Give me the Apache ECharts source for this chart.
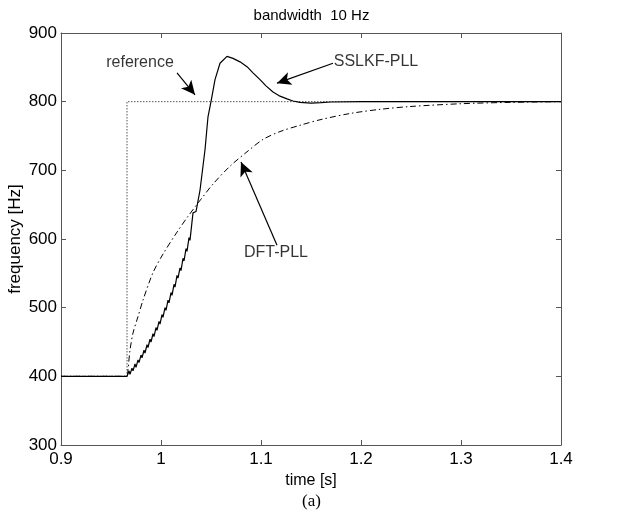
<!DOCTYPE html>
<html>
<head>
<meta charset="utf-8">
<script src="https://cdn.jsdelivr.net/npm/echarts@6/dist/echarts.min.js"></script>
<style>html,body{margin:0;padding:0;background:#fff}#c{width:623px;height:512px}</style>
</head>
<body>
<div id="c"></div>
<script>
const xTicks = [0.9, 1, 1.1, 1.2, 1.3, 1.4];
const yTicks = [300, 400, 500, 600, 700, 800, 900];

const refTime = [0.9, 0.966, 0.966, 1.4];
const refFreq = [400, 400, 800, 800];

const sslkfTime = [0.9, 0.966, 0.968, 0.969, 0.971, 0.972, 0.974, 0.975, 0.977, 0.978, 0.980, 0.981, 0.983, 0.984, 0.986, 0.987, 0.989, 0.990, 0.992, 0.993, 0.995, 0.996, 0.998, 0.999, 1.001, 1.002, 1.004, 1.005, 1.007, 1.008, 1.010, 1.011, 1.013, 1.014, 1.016, 1.017, 1.019, 1.020, 1.022, 1.023, 1.025, 1.026, 1.028, 1.029, 1.031, 1.032, 1.035, 1.036, 1.039, 1.044, 1.047, 1.050, 1.054, 1.059, 1.066, 1.072, 1.079, 1.086, 1.092, 1.099, 1.105, 1.112, 1.119, 1.126, 1.132, 1.139, 1.150, 1.160, 1.170, 1.200, 1.400];
const sslkfFreq = [400, 400, 408, 403, 412, 408, 418, 413, 424, 420, 431, 427, 438, 434, 446, 442, 454, 450, 462, 458, 471, 467, 480, 476, 490, 486, 500, 496, 511, 507, 522, 518, 534, 530, 547, 543, 558, 554, 572, 568, 586, 582, 602, 598, 625, 638, 640, 641, 671, 730, 778, 800, 832, 856, 866, 863, 858, 851, 842, 832, 823, 814, 808, 804, 801, 799, 798, 798.5, 799.5, 800, 800];

const dftTime = [0.9, 0.966, 0.967, 0.969, 0.972, 0.977, 0.982, 0.992, 1.002, 1.016, 1.027, 1.040, 1.052, 1.069, 1.086, 1.102, 1.120, 1.140, 1.160, 1.190, 1.220, 1.250, 1.300, 1.350, 1.400];
const dftFreq = [400, 400, 410, 438, 463, 487, 511, 551, 578, 610, 633, 658, 680, 706, 727, 745, 757, 766, 774, 783, 789, 793, 797, 799, 800];

const annoText = ['reference', 'SSLKF-PLL', 'DFT-PLL'];
const annoTextAt = [[0.979, 857], [1.215, 858], [1.115, 580]];
const arrowFrom = [[1.016, 842], [1.172, 856], [1.116, 591]];
const arrowTo = [[1.034, 810], [1.116, 827], [1.080, 712]];

const zip = (a, b) => a.map((v, i) => [v, b[i]]);

const chart = echarts.init(document.getElementById('c'), null, {renderer: 'canvas'});
const font = 'Liberation Sans, Arial, sans-serif';
const axisColor = '#555';

const baseX = {type: 'value', min: 0.9, max: 1.4, interval: 0.1, splitLine: {show: false},
  axisLine: {show: true, lineStyle: {color: axisColor, width: 1}},
  axisTick: {show: true, inside: true, length: 5, lineStyle: {color: axisColor}}};
const baseY = {type: 'value', min: 300, max: 900, interval: 100, splitLine: {show: false},
  axisLine: {show: true, lineStyle: {color: axisColor, width: 1}},
  axisTick: {show: true, inside: true, length: 5, lineStyle: {color: axisColor}}};

chart.setOption({
  animation: false,
  backgroundColor: '#fff',
  title: [
    {text: 'bandwidth  10 Hz', left: 'center', top: 3, textStyle: {fontFamily: font, fontSize: 15, fontWeight: 'normal', color: '#000'}},
    {text: '(a)', left: 'center', top: 488, textStyle: {fontFamily: 'Liberation Serif, Times New Roman, serif', fontSize: 17, fontWeight: 'normal', color: '#000'}}
  ],
  grid: {left: 61, top: 33, right: 62, bottom: 67, containLabel: false, outerBoundsMode: 'none'},
  xAxis: [
    Object.assign({}, baseX, {position: 'bottom', name: 'time [s]', nameLocation: 'middle', nameGap: 22,
      nameTextStyle: {fontFamily: font, fontSize: 16, color: '#000'},
      axisLabel: {margin: 6, fontFamily: font, fontSize: 17, color: '#000',
        formatter: v => { const r = Math.round(v * 10) / 10; return xTicks.includes(r) ? String(r) : ''; }}}),
    Object.assign({}, baseX, {position: 'top', axisLabel: {show: false}})
  ],
  yAxis: [
    Object.assign({}, baseY, {position: 'left', name: 'frequency [Hz]', nameLocation: 'middle', nameGap: 37,
      nameMoveOverlap: false,
      nameTextStyle: {fontFamily: font, fontSize: 17, color: '#000'},
      axisLabel: {margin: 4, fontFamily: font, fontSize: 17, color: '#000',
        formatter: v => yTicks.includes(v) ? String(v) : ''}}),
    Object.assign({}, baseY, {position: 'right', axisLabel: {show: false}})
  ],
  series: [
    {type: 'line', name: 'reference', data: zip(refTime, refFreq), showSymbol: false, symbol: 'none',
      lineStyle: {color: '#000', width: 1, type: [1, 2]}, z: 2},
    {type: 'line', name: 'DFT-PLL', data: zip(dftTime, dftFreq), showSymbol: false, symbol: 'none', smooth: 0.3,
      lineStyle: {color: '#000', width: 1, type: [6, 3, 1.5, 3]}, z: 3},
    {type: 'line', name: 'SSLKF-PLL', data: zip(sslkfTime, sslkfFreq), showSymbol: false, symbol: 'none',
      lineStyle: {color: '#000', width: 1.2}, z: 4,
      markLine: {silent: true, animation: false, symbol: ['none', 'arrow'], symbolSize: [10, 14],
        lineStyle: {color: '#000', width: 1.2, type: 'solid'}, label: {show: false},
        emphasis: {disabled: true},
        data: arrowFrom.map((p, i) => [{coord: p}, {coord: arrowTo[i]}])}},
    {type: 'scatter', name: 'labels', data: annoTextAt.map((p, i) => ({value: p, name: annoText[i]})),
      symbolSize: 0, silent: true,
      label: {show: true, position: 'inside', formatter: p => p.name, fontFamily: font, fontSize: 16, color: '#000'}}
  ]
});
</script>
</body>
</html>
